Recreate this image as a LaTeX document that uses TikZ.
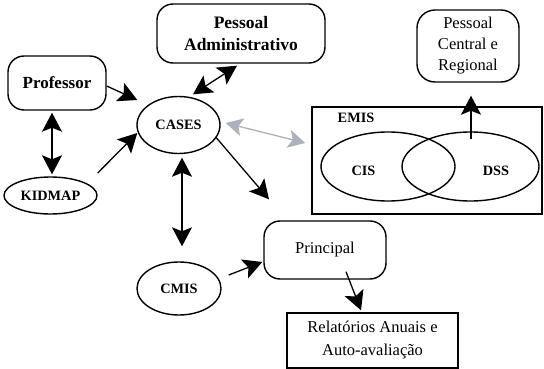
\documentclass[tikz,border=0pt]{standalone}
\usepackage{fontspec}
\setmainfont{Liberation Serif}
\usetikzlibrary{shapes.geometric,arrows.meta,calc}
\definecolor{arrgray}{RGB}{172,178,188}
\begin{document}
\begin{tikzpicture}[x=1pt,y=-1pt,
  rbox/.style={draw, rounded corners=16pt, line width=1.4pt, inner sep=0pt, align=center},
  sbox/.style={draw, line width=1.4pt, inner sep=0pt, align=center},
  ell/.style={draw, ellipse, line width=1.4pt, inner sep=0pt},
  capfont/.style={font=\fontsize{14.3}{16}\selectfont\bfseries},
  regfont/.style={font=\fontsize{16.5}{21}\selectfont},
  arr/.style={line width=1.3pt, -{Stealth[length=19pt,width=20pt,inset=4pt]}},
  darr/.style={line width=1.3pt, {Stealth[length=19pt,width=20pt,inset=4pt]}-{Stealth[length=19pt,width=20pt,inset=4pt]}},
  garr/.style={line width=1.3pt, draw=arrgray, {Stealth[length=17pt,width=18pt,inset=4pt,fill=arrgray]}-{Stealth[length=17pt,width=18pt,inset=4pt,fill=arrgray]}}]
\useasboundingbox (0,0) rectangle (544,369);

% nodes
\node[rbox, minimum width=168pt, minimum height=59pt, font=\fontsize{17.5}{22}\selectfont\bfseries] (padm) at (241,33.5) {Pessoal\\Administrativo};
\node[rbox, minimum width=98pt, minimum height=54pt, font=\fontsize{17}{20}\selectfont\bfseries] (prof) at (57,83) {Professor};
\node[rbox, rounded corners=18pt, minimum width=102pt, minimum height=72pt, regfont] (pcr) at (468,46) {Pessoal\\Central e\\Regional};
\node[ell, minimum width=83pt, minimum height=57pt, capfont] (cases) at (178.5,125) {CASES};
\node[ell, minimum width=93pt, minimum height=37pt, capfont] (kidmap) at (50.5,195.5) {KIDMAP};
\node[ell, minimum width=84pt, minimum height=53pt, capfont] (cmis) at (179,288.5) {CMIS};
\node[rbox, minimum width=122pt, minimum height=58pt, regfont] (princ) at (325,250) {Principal};
\node[sbox, minimum width=171pt, minimum height=55pt, font=\fontsize{16.5}{23}\selectfont] (rel) at (372.5,340.5) {Relatórios Anuais e\\Auto-avaliação};
\node[sbox, minimum width=230pt, minimum height=107pt] (emis) at (427,160.5) {};
\node[capfont] (emislabel) at (356,118) {EMIS};
\node[ell, minimum width=134pt, minimum height=69pt] (cis) at (388,166.5) {};
\node[ell, minimum width=137pt, minimum height=69pt] (dss) at (470.5,166.5) {};
\node[capfont] (cislabel) at (363.5,171) {CIS};
\node[capfont] (dsslabel) at (496,171) {DSS};

% connectors
\draw[arr] ([shift={(0,3)}]prof.east) -- ([shift={(1,-25)}]cases.west);
\draw[darr] ([shift={(-5,2)}]prof.south) -- ([shift={(1.5,-2)}]kidmap.north);
\draw[arr] ([shift={(0,-22.5)}]kidmap.east) -- ([shift={(1,8)}]cases.west);
\draw[darr] ([shift={(14.5,-1.5)}]cases.north) -- ([shift={(-4,2)}]padm.south);
\draw[garr] ([shift={(5,-2)}]cases.east) -- ([shift={(-6,-17.5)}]emis.west);
\draw[arr] ([shift={(-5,12)}]cases.east) -- ([shift={(-56,-21)}]princ.north);
\draw[darr] ([shift={(3.5,3.5)}]cases.south) -- ([shift={(3,-15)}]cmis.north);
\draw[arr] ([shift={(7,-13.5)}]cmis.east) -- ([shift={(-1,12)}]princ.west);
\draw[arr] ([shift={(21,-8)}]princ.south) -- ([shift={(-11.5,-2)}]rel.north);
\draw[arr] ([shift={(0.5,8)}]dss.north) -- ([shift={(3,13)}]pcr.south);
\end{tikzpicture}
\end{document}
